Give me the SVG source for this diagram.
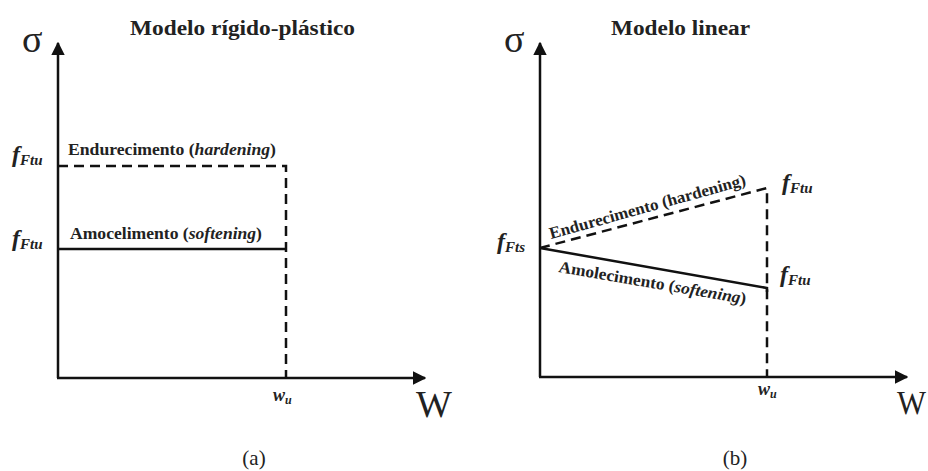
<svg xmlns="http://www.w3.org/2000/svg" width="928" height="471" viewBox="0 0 928 471">
<defs>
<marker id="arr" viewBox="0 0 10 10" refX="9" refY="5" markerWidth="5.5" markerHeight="5.5" orient="auto" markerUnits="strokeWidth">
<path d="M0,0 L10,5 L0,10 z" fill="#111"/>
</marker>
<style>
text{font-family:'Times New Roman','Liberation Serif',serif;fill:#222}
.ln{stroke:#111;stroke-width:2.5;fill:none}
.dash{stroke-dasharray:10 6}
.b{font-weight:bold}
.fi{font-weight:bold;font-style:italic}
</style>
</defs>
<rect width="928" height="471" fill="#fff"/>

<g id="panel-a">
<g id="a-axes" class="ln">
<line x1="58" y1="378" x2="58" y2="43" marker-end="url(#arr)"/>
<line x1="57" y1="378" x2="425" y2="378" marker-end="url(#arr)"/>
</g>
<g id="a-curves" class="ln">
<polyline class="dash" points="58,166 286,166 286,378"/>
<line x1="58" y1="249" x2="287" y2="249"/>
</g>
<text class="b" font-family="Times New Roman" font-size="20" x="130" y="35" textLength="225" lengthAdjust="spacingAndGlyphs">Modelo rígido-plástico</text>
<text font-family="Times New Roman" font-size="38" x="22" y="52">σ</text>
<text class="fi" font-family="Times New Roman" font-size="24" x="12" y="162">f<tspan font-size="15" dy="3">Ftu</tspan></text>
<text class="fi" font-family="Times New Roman" font-size="24" x="12" y="246">f<tspan font-size="15" dy="3">Ftu</tspan></text>
<text class="b" font-family="Times New Roman" font-size="16.5" x="68" y="155" textLength="208" lengthAdjust="spacingAndGlyphs">Endurecimento (<tspan font-style="italic">hardening</tspan>)</text>
<text class="b" font-family="Times New Roman" font-size="16.5" x="70" y="239" textLength="192" lengthAdjust="spacingAndGlyphs">Amocelimento (<tspan font-style="italic">softening</tspan>)</text>
<text class="fi" font-family="Times New Roman" font-size="18" x="273" y="401">w<tspan font-size="12" dy="3">u</tspan></text>
<text font-family="Times New Roman" font-size="38" x="416" y="417">W</text>
<text font-family="Times New Roman" font-size="21" x="254" y="465" text-anchor="middle">(a)</text>
</g>

<g id="panel-b">
<g id="b-axes" class="ln">
<line x1="540" y1="377" x2="540" y2="43" marker-end="url(#arr)"/>
<line x1="539" y1="377" x2="907" y2="377" marker-end="url(#arr)"/>
</g>
<g id="b-curves" class="ln">
<polyline class="dash" points="540,248 767,188 767,377"/>
<polyline points="540,248 767,288 767,292"/>
</g>
<text class="b" font-family="Times New Roman" font-size="20" x="611" y="35" textLength="139" lengthAdjust="spacingAndGlyphs">Modelo linear</text>
<text font-family="Times New Roman" font-size="38" x="504" y="52">σ</text>
<text class="fi" font-family="Times New Roman" font-size="24" x="497" y="249">f<tspan font-size="15" dy="3">Fts</tspan></text>
<text class="fi" font-family="Times New Roman" font-size="24" x="782" y="190">f<tspan font-size="15" dy="3">Ftu</tspan></text>
<text class="fi" font-family="Times New Roman" font-size="24" x="780" y="282">f<tspan font-size="15" dy="3">Ftu</tspan></text>
<text class="b" font-family="Times New Roman" font-size="16.5" transform="translate(551,239) rotate(-15.5)" textLength="203" lengthAdjust="spacingAndGlyphs">Endurecimento (hardening)</text>
<text class="b" font-family="Times New Roman" font-size="16.5" transform="translate(558,272) rotate(9.7)" textLength="190" lengthAdjust="spacingAndGlyphs">Amolecimento (<tspan font-style="italic">softening</tspan>)</text>
<text class="fi" font-family="Times New Roman" font-size="18" x="758" y="395">w<tspan font-size="12" dy="3">u</tspan></text>
<text font-family="Times New Roman" font-size="34" x="897" y="414" textLength="29" lengthAdjust="spacingAndGlyphs">W</text>
<text font-family="Times New Roman" font-size="21" x="735" y="465" text-anchor="middle">(b)</text>
</g>
</svg>
